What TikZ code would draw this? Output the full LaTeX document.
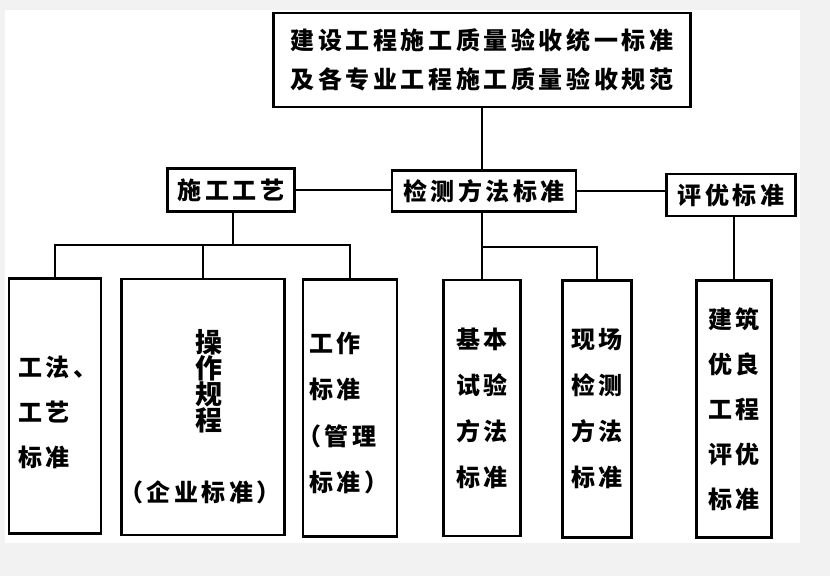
\documentclass[tikz,border=0pt]{standalone}
\usepackage{fontspec}
\newfontfamily\cjk{Noto Sans CJK SC}[LetterSpace=15]

\begin{document}
\begin{tikzpicture}[x=1pt,y=-1pt,
  box/.style={draw,line width=2.4pt,inner sep=0pt,align=center,
    font=\cjk\bfseries\fontsize{24}{46}\selectfont},
  word/.style={inner sep=0pt,align=left,font=\cjk\bfseries\fontsize{24}{46}\selectfont},
  link/.style={line width=2pt}]

\useasboundingbox (0,0) rectangle (830,576);
\fill[black!5] (0,0) rectangle (830,576);
\fill[white] (5,10) rectangle (800,543);

\node[box,minimum width=417,minimum height=94,font=\cjk\bfseries\fontsize{24}{39}\selectfont] (top) at (482,60) {建设工程施工质量验收统一标准\\及各专业工程施工质量验收规范};

\node[box,minimum width=127,minimum height=43] (gongyi) at (231,190) {施工工艺};
\node[box,minimum width=184,minimum height=41] (jiance) at (484,191) {检测方法标准};
\node[box,minimum width=129,minimum height=42] (pingyou) at (731,195) {评优标准};

% bottom row
\node[box,minimum width=92,minimum height=255] (gongfa) at (55,406) {};
\node[word,anchor=west,font=\cjk\bfseries\fontsize{24}{45}\selectfont] (gongfa-t) at (18,412) {工法、\\工艺\\标准};
\node[box,minimum width=163,minimum height=256] (caozuo) at (203,407) {};
\node[word,align=center,font=\cjk\bfseries\fontsize{27}{26}\selectfont] (caozuo-a) at (209,381) {操\\作\\规\\程};
\node[word,align=center] (caozuo-b) at (200,492) {（企业标准）};
\node[box,minimum width=94,minimum height=257] (gongzuo) at (350,408) {};
\node[word,anchor=west,font=\cjk\bfseries\fontsize{24}{46.5}\selectfont] (gongzuo-t) at (309,413) {工作\\标准\\\hspace*{-12pt}（管理\\标准）};
\node[box,minimum width=77,minimum height=256] (jiben) at (482,408) {基本\\试验\\方法\\标准};
\node[box,minimum width=69,minimum height=257] (xianchang) at (597,409) {现场\\检测\\方法\\标准};
\node[box,minimum width=75,minimum height=257,font=\cjk\bfseries\fontsize{24}{45}\selectfont] (jianzhu) at (734,409) {建筑\\优良\\工程\\评优\\标准};

\coordinate (fork1) at (233,245);
\coordinate (fork2) at (482,247);

\draw[link] (top.south) -- (top.south |- jiance.north);
\draw[link] (gongyi.east) -- (gongyi.east -| jiance.west);
\draw[link] (jiance.east) -- (jiance.east -| pingyou.west);

\draw[link] (gongyi.south -| fork1) -- (fork1);
\draw[link] (gongfa.north) |- (fork1) -| (gongzuo.north);
\draw[link] (caozuo.north) -- (caozuo.north |- fork1);

\draw[link] (jiben.north |- jiance.south) -- (jiben.north);
\draw[link] (fork2) -| (xianchang.north);

\draw[link] (jianzhu.north |- pingyou.south) -- (jianzhu.north);

\end{tikzpicture}
\end{document}
